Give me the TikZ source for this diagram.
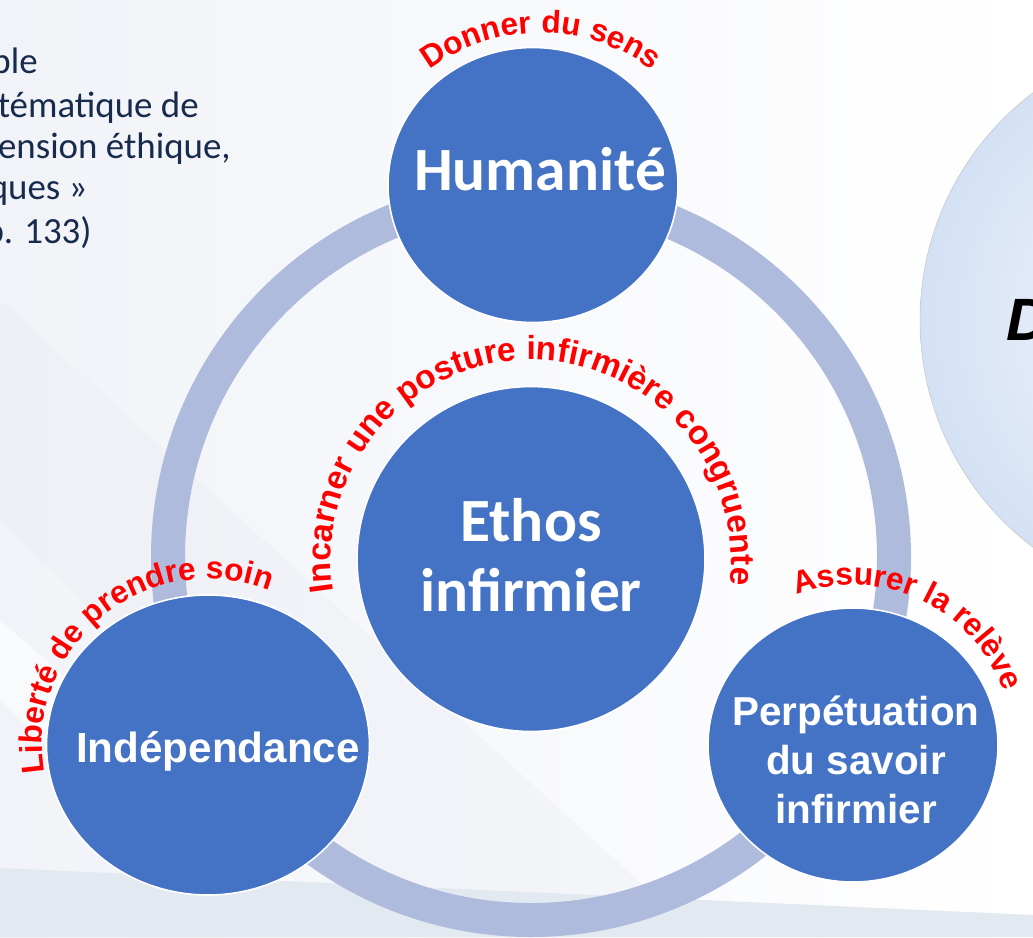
\documentclass[tikz,border=0pt]{standalone}
\usepackage{fontspec}
\setmainfont{Carlito}
\newfontfamily\arialfont{Liberation Sans}
\usepackage{tikz}
\usetikzlibrary{positioning,calc,shapes.geometric,decorations.text}

\definecolor{bubbleblue}{RGB}{68,114,196}
\definecolor{ringblue}{RGB}{175,187,221}
\definecolor{labelred}{RGB}{255,0,0}
\definecolor{quoteink}{RGB}{23,43,77}
\definecolor{slidegray}{RGB}{241,243,248}
\definecolor{raygray}{RGB}{233,236,243}
\definecolor{bandgray}{RGB}{226,233,241}
\definecolor{discinner}{RGB}{246,249,253}
\definecolor{discouter}{RGB}{212,225,245}

\tikzset{
  bubble/.style={ellipse,fill=bubbleblue,draw=white,line width=0.9pt,inner sep=0pt},
  bigword/.style={text=white,align=center,font=\bfseries\fontsize{35}{40}\selectfont},
  sansword/.style={text=white,align=center,font=\arialfont\bfseries\fontsize{24}{27.8}\selectfont},
  ring/.style={draw=ringblue,line width=0.68cm},
  quote/.style={anchor=base east,inner sep=0pt,text=quoteink,font=\fontsize{21}{25}\selectfont},
  arclabel/.style n args={2}{decorate,decoration={text along path,text align=center,
      text color=labelred,text={|\arialfont\bfseries\fontsize{#2}{20}\selectfont|#1}}}
}

\begin{document}
\begin{tikzpicture}[x=0.02cm,y=0.02cm]
  % Slide frame, one unit is one pixel, y goes down
  \useasboundingbox (0,0) rectangle (1033,-937);
  \clip (0,0) rectangle (1033,-937);
  \shade[left color=slidegray,right color=white] (0,0) rectangle (1033,-937);
  % faint rays of the background
  \fill[raygray,opacity=0.35] (0,-300) -- (700,-937) -- (420,-937) -- (0,-520) -- cycle;
  \fill[white,opacity=0.6] (0,-620) -- (360,-937) -- (250,-937) -- (0,-700) -- cycle;
  \fill[bandgray] (0,-868) -- (1033,-915) -- (1033,-937) -- (0,-937) -- cycle;

  % Large disc cut by the right edge
  \shadedraw[inner color=discinner,outer color=discouter,draw=gray!45,line width=0.3pt]
    (1205,-320) circle (285);
  \node[anchor=base west,inner sep=0pt,font=\arialfont\bfseries\itshape\fontsize{34}{40}\selectfont]
    (dtitle) at (1006,-340) {D};

  % Quotation cut by the left edge
  \node[quote] (q1) at (38,-73) {ble};
  \node[quote] (q2) at (199,-117) {tématique de};
  \node[quote] (q3) at (231,-158) {ension éthique,};
  \node[quote] (q4) at (88,-199) {ques »};
  \node[quote] (q5) at (92,-243) {p. 133)};

  % The ring behind the bubbles
  \draw[ring] (531,-557) circle (363);

  % Bubbles
  \node[bubble,minimum width=5.8cm,minimum height=5.5cm] (hum) at (533,-185) {};
  \node[bubble,minimum width=6.96cm,minimum height=6.9cm] (ethos) at (531,-559) {};
  \node[bubble,minimum width=6.46cm,minimum height=6.0cm] (indep) at (208,-745) {};
  \node[bubble,minimum width=5.8cm,minimum height=5.48cm] (perp) at (853,-745) {};

  % Texts inside the bubbles
  \node[bigword,anchor=base] (humtxt) at (540,-190) {Humanité};
  \node[bigword] (ethostxt) at (531,-555) {Ethos\\infirmier};
  \node[sansword,anchor=base] (indeptxt) at (218,-762) {Indépendance};
  \node[sansword,font=\arialfont\bfseries\fontsize{23}{27.8}\selectfont] (perptxt) at (856,-760)
    {Perpétuation\\du savoir\\infirmier};

  % Red labels bent round the bubbles
  \path[arclabel={Donner du sens}{18}] ([shift={(150:185)}]541,-218) arc (150:30:185);
  \path[arclabel={Incarner une posture infirmière congruente}{19}]
    ([shift={(205:200)}]531,-560) arc (205:-23:200);
  \path[arclabel={Liberté de prendre soin}{18}] ([shift={(200:166)}]208,-745) arc (200:58:166);
  \path[arclabel={Assurer la relève}{18}] ([shift={(120:160)}]853,-745) arc (120:10:160);
\end{tikzpicture}
\end{document}
